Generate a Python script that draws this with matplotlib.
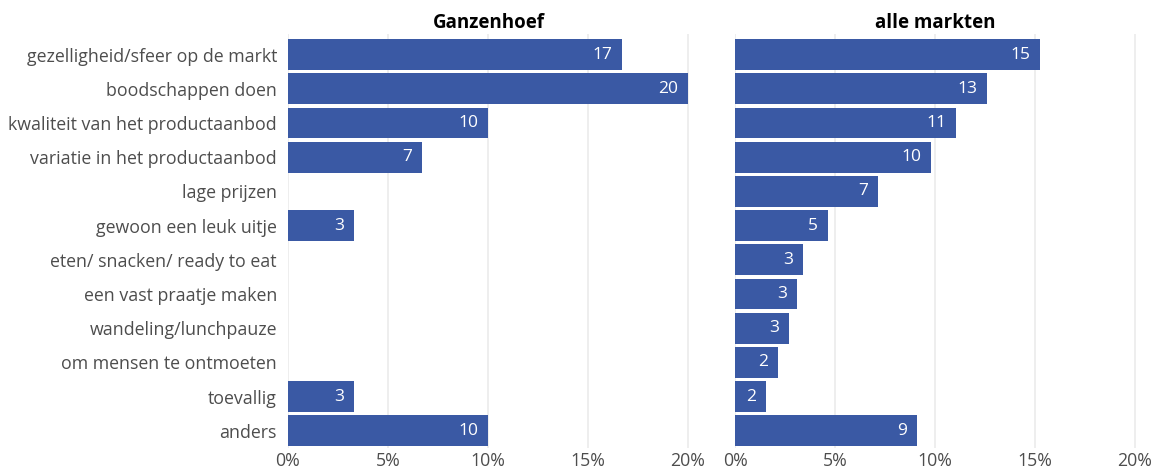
import matplotlib.pyplot as plt

categories = [
    'gezelligheid/sfeer op de markt',
    'boodschappen doen',
    'kwaliteit van het productaanbod',
    'variatie in het productaanbod',
    'lage prijzen',
    'gewoon een leuk uitje',
    'eten/ snacken/ ready to eat',
    'een vast praatje maken',
    'wandeling/lunchpauze',
    'om mensen te ontmoeten',
    'toevallig',
    'anders',
]

ganzenhoef = [16.7, 20.0, 10.0, 6.7, 0, 3.3, 0, 0, 0, 0, 3.3, 10.0]
alle_markten = [15.25, 12.6, 11.05, 9.8, 7.15, 4.65, 3.4, 3.1, 2.7, 2.15, 1.55, 9.1]

panels = [('Ganzenhoef', ganzenhoef), ('alle markten', alle_markten)]
xticks = [0, 5, 10, 15, 20]

plt.rcParams['font.family'] = ['Open Sans', 'DejaVu Sans']

bar_color = '#3A59A4'
W, H = 1158, 470
fig = plt.figure(figsize=(W / 100, H / 100), dpi=100)

lefts = [288, 735]
width_px = 401
top_px, bottom_px = 34, 448

for i, (title, values) in enumerate(panels):
    ax = fig.add_axes([lefts[i] / W, 1 - bottom_px / H, width_px / W, (bottom_px - top_px) / H])
    y = list(range(len(categories)))
    ax.set_xlim(0, 20.05)
    ax.set_ylim(len(categories) - 0.5, -0.6)
    ax.set_xticks(xticks)
    ax.set_xticklabels([f'{t}%' for t in xticks])
    ax.grid(axis='x', color='#EBEBEB', linewidth=1.2)
    ax.set_axisbelow(True)
    for s in ax.spines.values():
        s.set_visible(False)
    ax.tick_params(length=0, labelsize=12.8, labelcolor='#4D4D4D', pad=3)
    bars = ax.barh(y, values, height=0.9, color=bar_color)
    for b, v in zip(bars, values):
        if v > 0:
            ax.text(v - 0.5, b.get_y() + b.get_height() / 2, f'{round(v)}',
                    ha='right', va='center', color='white', fontsize=12.5)
    if i == 0:
        ax.set_yticks(y)
        ax.set_yticklabels(categories)
        ax.tick_params(axis='y', pad=8)
    else:
        ax.set_yticks([])
    ax.set_title(title, fontsize=13.5, fontweight='bold', color='black', pad=4)

fig.savefig('out.png', dpi=100)
